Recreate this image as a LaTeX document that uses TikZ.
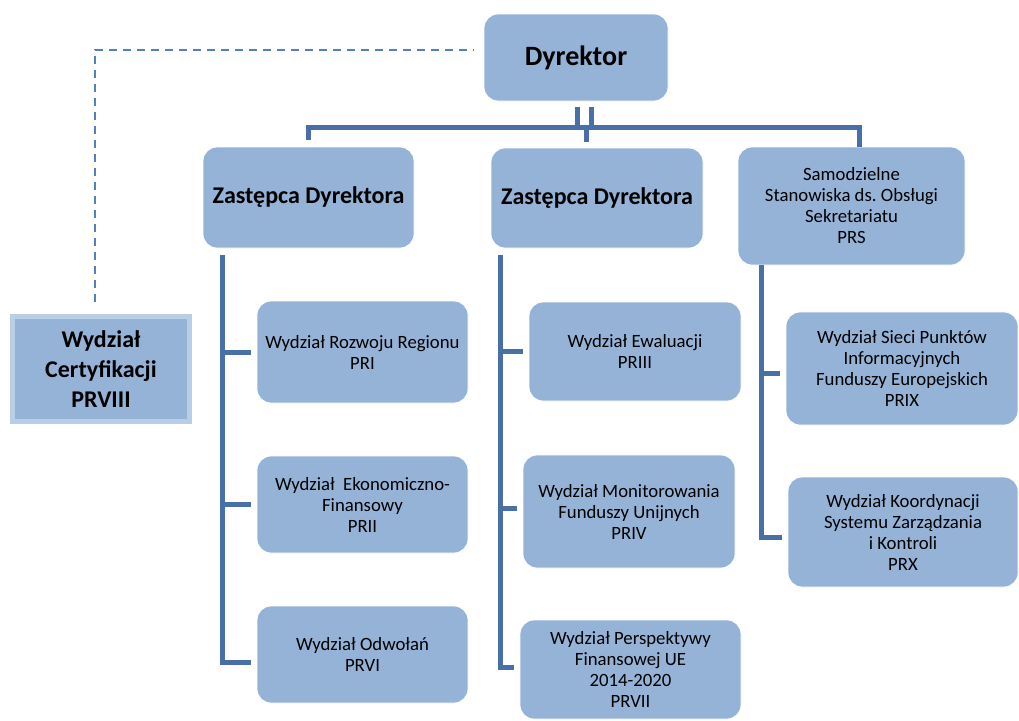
\documentclass[tikz,border=0pt]{standalone}
\usepackage{fontspec}
\setmainfont{Carlito}
\usetikzlibrary{positioning}
\definecolor{boxblue}{RGB}{149,179,215}
\definecolor{certedge}{RGB}{185,205,229}
\definecolor{linkblue}{RGB}{72,112,166}
\definecolor{dashblue}{RGB}{79,129,189}

\begin{document}
\begin{tikzpicture}[x=1pt, y=-1pt,
  unit/.style={rectangle, rounded corners=14pt, fill=boxblue, draw=white, line width=0.8pt,
    align=center, inner sep=0pt, font=\fontsize{18.75}{21}\selectfont},
  head/.style={unit, font=\fontsize{24}{28}\selectfont\bfseries},
  conn/.style={draw=linkblue, line width=5pt, line join=miter},
  dashline/.style={draw=dashblue, line width=2pt, dash pattern=on 8pt off 6pt}]
\useasboundingbox (0,0) rectangle (1019,720);
% Top level
\node[unit, minimum width=184pt, minimum height=87pt, font=\fontsize{28}{32}\selectfont\bfseries]
  (dyr) at (576,57.5) {Dyrektor};
\node[head, minimum width=211pt, minimum height=101pt] (dep1) at (308.5,197.5) {Zastępca Dyrektora};
\node[head, minimum width=212pt, minimum height=100pt] (dep2) at (597,198) {Zastępca Dyrektora};
\node[unit, minimum width=227pt, minimum height=118pt] (prs) at (851.5,206)
  {Samodzielne\\Stanowiska ds.\ Obsługi\\Sekretariatu\\PRS};
% Certification unit
\node[rectangle, fill=boxblue, draw=certedge, line width=5pt, minimum width=177pt, minimum height=105pt,
  align=center, font=\fontsize{24}{30}\selectfont\bfseries] (cert) at (101,369)
  {Wydział\\Certyfikacji\\PRVIII};
% Left column
\node[unit, minimum width=211pt, minimum height=102pt] (pri) at (362.5,352) {Wydział Rozwoju Regionu\\PRI};
\node[unit, minimum width=211pt, minimum height=97pt] (prii) at (362.5,504.5) {Wydział~ Ekonomiczno-\\Finansowy\\PRII};
\node[unit, minimum width=211pt, minimum height=97pt] (prvi) at (362.5,654.5) {Wydział Odwołań\\PRVI};
% Middle column
\node[unit, minimum width=212pt, minimum height=99pt] (priii) at (635,351.5) {Wydział Ewaluacji\\PRIII};
\node[unit, minimum width=212pt, minimum height=113pt] (priv) at (629,511.5)
  {Wydział Monitorowania\\Funduszy Unijnych\\PRIV};
\node[unit, minimum width=221pt, minimum height=99pt] (prvii) at (630.5,669.5)
  {Wydział Perspektywy\\Finansowej UE\\2014-2020\\PRVII};
% Right column
\node[unit, minimum width=232pt, minimum height=113pt] (prix) at (902,368.5)
  {Wydział Sieci Punktów\\Informacyjnych\\Funduszy Europejskich\\PRIX};
\node[unit, minimum width=230pt, minimum height=110pt] (prx) at (903,532)
  {Wydział Koordynacji\\Systemu Zarządzania\\i Kontroli\\PRX};
% Connectors from the director
\coordinate (bus) at (586,127.5);
\coordinate (d2top) at ([yshift=6pt]dep2.north);
\draw[conn] ([xshift=1pt,yshift=-6pt]dyr.south) -- ([xshift=1pt]dyr.south |- bus);
\draw[conn] ([xshift=15pt,yshift=-6pt]dyr.south) -- ([xshift=15pt]dyr.south |- bus);
\draw[conn] ([yshift=7pt]dep1.north) |- (bus) -| ([xshift=7.5pt]prs.north);
\draw[conn] (bus) -- (bus |- d2top);
\draw[dashline] (95,302) coordinate (dashend) |- ([xshift=-10pt,yshift=7.5pt]dyr.west);
% Left column links
\coordinate (lcol) at (222,255);
\draw[conn] (lcol) |- ([xshift=-6pt,yshift=-7.5pt]prvi.west);
\foreach \n in {pri,prii}
  \draw[conn] (lcol |- \n.west) -- ([xshift=-6pt]\n.west);
% Middle column links
\coordinate (mcol) at (500.5,255);
\draw[conn] (mcol) |- ([xshift=-6pt,yshift=2.5pt]prvii.west);
\draw[conn] (mcol |- priii.west) -- ([xshift=-6pt]priii.west);
\draw[conn] ([yshift=3.5pt]mcol |- priv.west) -- ([xshift=-6pt,yshift=3.5pt]priv.west);
% Right column links
\coordinate (rcol) at (761,265);
\draw[conn] (rcol) |- ([xshift=-6pt,yshift=-5pt]prx.west);
\draw[conn] ([yshift=-4.5pt]rcol |- prix.west) -- ([xshift=-6pt,yshift=-4.5pt]prix.west);
\end{tikzpicture}
\end{document}
